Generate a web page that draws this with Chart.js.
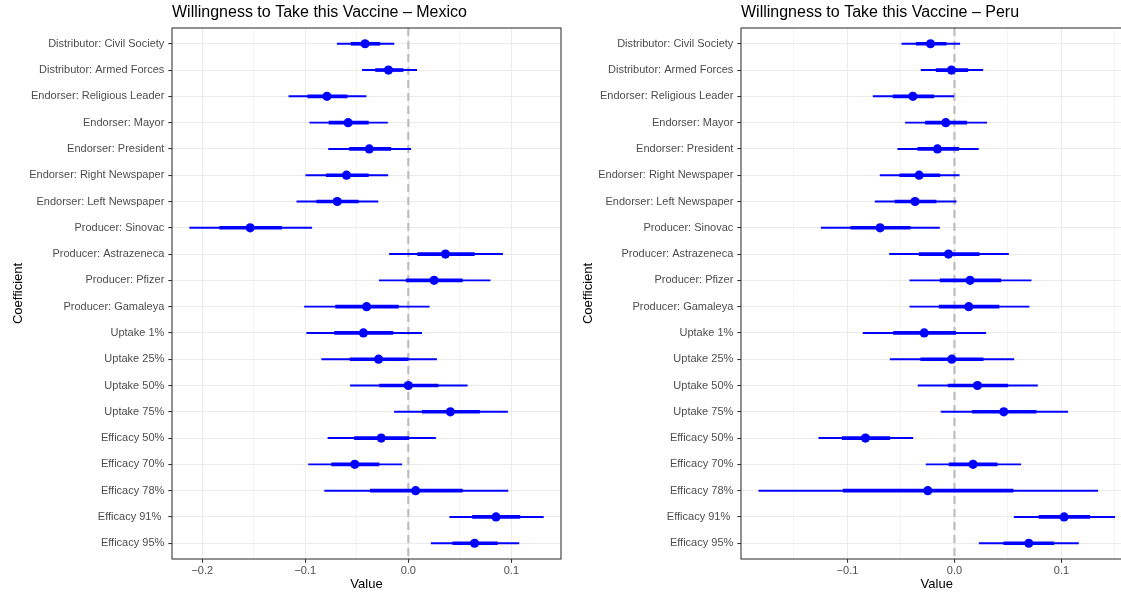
<!DOCTYPE html>
<html>
<head>
<meta charset="utf-8">
<title>Willingness to Take this Vaccine</title>
<script src="https://cdn.jsdelivr.net/npm/chart.js@4.4.1/dist/chart.umd.min.js"></script>
<style>
  html, body { margin: 0; padding: 0; background: #ffffff; overflow: hidden; width: 1121px; height: 594px; }
  #mex { position: absolute; left: 0; top: 0; }
  #per { position: absolute; left: 570px; top: 0; }
</style>
</head>
<body>
<canvas id="mex" width="570" height="594"></canvas>
<canvas id="per" width="570" height="594"></canvas>
<script>
// Conjoint attributes, top to bottom
const categories = [
  'Distributor: Civil Society', 'Distributor: Armed Forces',
  'Endorser: Religious Leader', 'Endorser: Mayor', 'Endorser: President',
  'Endorser: Right Newspaper', 'Endorser: Left Newspaper',
  'Producer: Sinovac', 'Producer: Astrazeneca', 'Producer: Pfizer', 'Producer: Gamaleya',
  'Uptake 1%', 'Uptake 25%', 'Uptake 50%', 'Uptake 75%',
  'Efficacy 50%', 'Efficacy 70%', 'Efficacy 78%', 'Efficacy 91% ', 'Efficacy 95%'
];

// Mexico: estimate, inner interval, outer interval
const mexicoEstimate = [-0.042, -0.0193, -0.079, -0.0584, -0.0379, -0.060, -0.069, -0.1535, 0.036, 0.025,
  -0.0405, -0.0436, -0.0289, 0.000, 0.0408, -0.0263, -0.052, 0.0071, 0.0851, 0.0643];
const mexicoInnerLow = [-0.0555, -0.0318, -0.0976, -0.077, -0.0571, -0.0796, -0.0889, -0.183, 0.009, -0.002,
  -0.0706, -0.0716, -0.0565, -0.0279, 0.0135, -0.0523, -0.0745, -0.0369, 0.0623, 0.0431];
const mexicoInnerHigh = [-0.0276, -0.0051, -0.0594, -0.0388, -0.017, -0.0388, -0.0485, -0.123, 0.064, 0.0524,
  -0.0096, -0.015, -0.0003, 0.0289, 0.0691, 0.0004, -0.0285, 0.0524, 0.1083, 0.0864];
const mexicoOuterLow = [-0.069, -0.0446, -0.1159, -0.0957, -0.0774, -0.0995, -0.1082, -0.2122, -0.0183, -0.0282,
  -0.1008, -0.0986, -0.0841, -0.0562, -0.0135, -0.078, -0.0969, -0.0812, 0.0402, 0.0222];
const mexicoOuterHigh = [-0.014, 0.0081, -0.041, -0.0202, 0.0023, -0.0199, -0.0295, -0.0937, 0.0915, 0.0794,
  0.0203, 0.0129, 0.0274, 0.0572, 0.0963, 0.0264, -0.0064, 0.0967, 0.131, 0.1073];

// Peru: estimate, inner interval, outer interval
const peruEstimate = [-0.0224, -0.0028, -0.0389, -0.0081, -0.0159, -0.033, -0.0368, -0.0695, -0.0056, 0.0146,
  0.0134, -0.0283, -0.0025, 0.0215, 0.0461, -0.0832, 0.0174, -0.0249, 0.1025, 0.0695];
const peruInnerLow = [-0.0358, -0.0171, -0.0573, -0.0271, -0.0343, -0.0511, -0.0555, -0.0969, -0.033, -0.0134,
  -0.0143, -0.057, -0.0315, -0.0059, 0.0168, -0.105, -0.005, -0.104, 0.0791, 0.0461];
const peruInnerHigh = [-0.0078, 0.0125, -0.0193, 0.0115, 0.004, -0.0137, -0.0171, -0.0414, 0.0231, 0.0433,
  0.0417, 0.0012, 0.0268, 0.0498, 0.0763, -0.0604, 0.0399, 0.0548, 0.1265, 0.0928];
const peruOuterLow = [-0.0492, -0.0312, -0.076, -0.0458, -0.053, -0.0695, -0.0741, -0.1246, -0.0607, -0.0417,
  -0.0417, -0.0854, -0.0601, -0.034, -0.0125, -0.1268, -0.0265, -0.1829, 0.0558, 0.0231];
const peruOuterHigh = [0.005, 0.0265, -0.0006, 0.0302, 0.0224, 0.0044, 0.0016, -0.014, 0.0505, 0.0717,
  0.0698, 0.0293, 0.0555, 0.0776, 0.1059, -0.0389, 0.062, 0.134, 0.1498, 0.1159];

const FONT = "'Liberation Sans', Arial, Helvetica, sans-serif";
const BLUE = '#0000FF';

// Full rectangle around the panel, drawn over the data
const panelBorder = {
  id: 'panelBorder',
  afterDatasetsDraw(chart) {
    const a = chart.chartArea, ctx = chart.ctx;
    ctx.save();
    ctx.strokeStyle = '#333333';
    ctx.lineWidth = 1.07;
    ctx.strokeRect(a.left, a.top, a.right - a.left, a.bottom - a.top);
    ctx.restore();
  }
};

// Left-align the title with the panel
const titleToPanel = {
  id: 'titleToPanel',
  afterLayout(chart) {
    if (chart.titleBlock) chart.titleBlock.left = chart.chartArea.left;
  }
};

function isMajor(v) {
  return Math.abs(v * 10 - Math.round(v * 10)) < 1e-6;
}
function fmt(v) {
  const r = Math.round(v * 10) / 10;
  if (r === 0) return '0.0';
  return (r < 0 ? '\u2212' : '') + Math.abs(r).toFixed(1);
}

function buildChart(canvasId, title, est, inLo, inHi, outLo, outHi, yAxisWidth, padRight) {
  const lo = Math.min(...outLo), hi = Math.max(...outHi);
  const pad = (hi - lo) * 0.05;
  const pts = est.map((v, i) => ({ x: v, y: i }));
  const inner = inLo.map((v, i) => ({ y: i, x: [v, inHi[i]] }));
  const outer = outLo.map((v, i) => ({ y: i, x: [v, outHi[i]] }));
  const n = categories.length;

  return new Chart(document.getElementById(canvasId), {
    data: {
      datasets: [
        { type: 'scatter', data: pts, backgroundColor: BLUE, borderWidth: 0,
          pointRadius: 4.6, pointHoverRadius: 4.6 },
        { type: 'bar', indexAxis: 'y', data: inner, backgroundColor: BLUE,
          barThickness: 3, grouped: false, borderWidth: 0 },
        { type: 'bar', indexAxis: 'y', data: outer, backgroundColor: BLUE,
          barThickness: 1.3, grouped: false, borderWidth: 0 },
        { type: 'line', data: [{ x: 0, y: -0.6 }, { x: 0, y: n - 0.4 }],
          borderColor: '#BDBDBD', borderWidth: 2.2, borderDash: [8, 5],
          pointRadius: 0, fill: false }
      ]
    },
    options: {
      responsive: false,
      animation: false,
      events: [],
      layout: { padding: { left: 0, right: padRight, top: 0, bottom: 0 } },
      plugins: {
        legend: { display: false },
        tooltip: { enabled: false },
        title: {
          display: true, text: title, align: 'start', color: '#000000',
          font: { family: FONT, size: 16, weight: 'normal' },
          padding: { top: 3, bottom: 5.8 }
        }
      },
      scales: {
        x: {
          type: 'linear', position: 'bottom', offset: false,
          min: lo - pad, max: hi + pad,
          afterBuildTicks(scale) {
            const t = [];
            for (let k = Math.ceil(scale.min / 0.05); k <= Math.floor(scale.max / 0.05); k++) {
              t.push({ value: Math.round(k * 5) / 100 });
            }
            scale.ticks = t;
          },
          afterFit(scale) { scale.height = 35; },
          ticks: {
            autoSkip: false, maxRotation: 0, padding: 1.5, color: '#4D4D4D',
            font: { family: FONT, size: 11 },
            callback: (v) => isMajor(v) ? fmt(v) : ''
          },
          grid: {
            offset: false,
            color: '#EBEBEB',
            lineWidth: (c) => (c.tick && isMajor(c.tick.value)) ? 1.07 : 0.53,
            tickColor: (c) => (c.tick && isMajor(c.tick.value)) ? '#333333' : 'rgba(0,0,0,0)',
            tickLength: 3.7, tickWidth: 1.07
          },
          border: { display: false },
          title: {
            display: true, text: 'Value', color: '#000000',
            font: { family: FONT, size: 13 },
            padding: { top: 0, bottom: 2.2 }
          }
        },
        y: {
          type: 'linear', position: 'left', reverse: true, offset: false,
          min: -0.6, max: n - 0.4,
          afterBuildTicks(scale) {
            scale.ticks = categories.map((c, i) => ({ value: i }));
          },
          afterFit(scale) { scale.width = yAxisWidth; },
          ticks: {
            autoSkip: false, padding: 4, color: '#4D4D4D',
            font: { family: FONT, size: 11 },
            callback: (v) => categories[v]
          },
          grid: {
            offset: false,
            color: '#EBEBEB', lineWidth: 1.07,
            tickColor: '#333333', tickLength: 3.7, tickWidth: 1.07
          },
          border: { display: false },
          title: {
            display: true, text: 'Coefficient', color: '#000000',
            font: { family: FONT, size: 13 },
            padding: { top: 10.2, bottom: 0 }
          }
        }
      }
    },
    plugins: [panelBorder, titleToPanel]
  });
}

buildChart('mex', 'Willingness to Take this Vaccine \u2013 Mexico',
  mexicoEstimate, mexicoInnerLow, mexicoInnerHigh, mexicoOuterLow, mexicoOuterHigh, 172, 9);
buildChart('per', 'Willingness to Take this Vaccine \u2013 Peru',
  peruEstimate, peruInnerLow, peruInnerHigh, peruOuterLow, peruOuterHigh, 171, 7.5);
</script>
</body>
</html>
